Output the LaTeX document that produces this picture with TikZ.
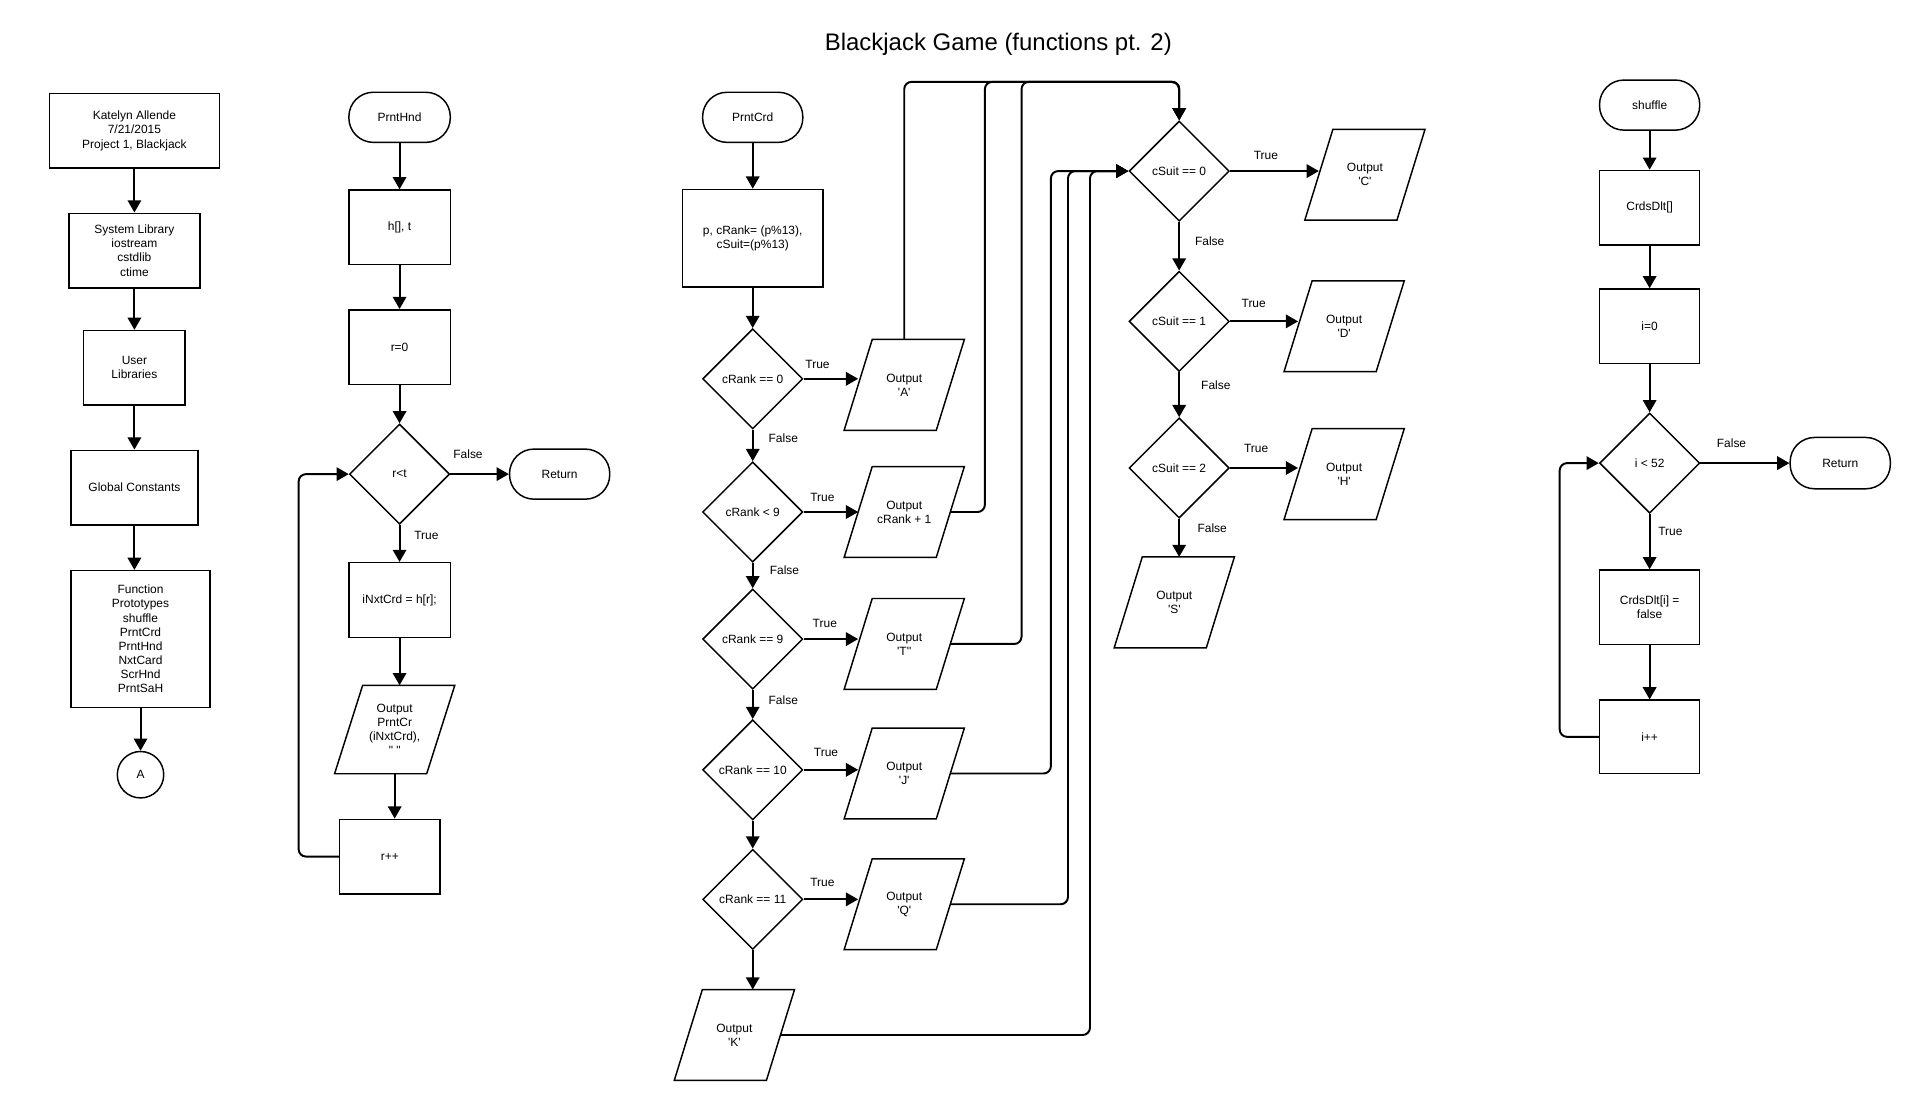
\documentclass[tikz,border=0pt]{standalone}
\usepackage{fontspec}
\setmainfont{Liberation Sans}[Ligatures=TeXOff]
\usetikzlibrary{shapes.geometric,arrows.meta}
\begin{document}
\begin{tikzpicture}[x=1pt,y=-1pt,
  every node/.style={font=\fontsize{9.8pt}{11.6pt}\selectfont, align=center, inner sep=0pt},
  proc/.style={draw, line width=1.2pt, minimum width=83pt, minimum height=61pt},
  term/.style={draw, line width=1.2pt, rounded corners=20pt, minimum width=83pt, minimum height=41pt},
  dec/.style={draw, diamond, aspect=1, line width=1.2pt, minimum width=82pt, minimum height=82pt},
  io/.style={minimum width=75pt, minimum height=74pt},
  conn/.style={circle, draw, line width=1.2pt, minimum size=38pt},
  flow/.style={line width=1.6pt, -{Triangle[length=10pt,width=11pt]}},
  link/.style={line width=1.4pt, rounded corners=6pt}
]
\useasboundingbox (0,0) rectangle (1568,900);

\node[font=\fontsize{19.6pt}{23pt}\selectfont] (title) at (817,36) {Blackjack Game (functions pt. 2)};

% ---------- header column ----------
\node[proc, minimum width=139pt] (hdr) at (110,107) {Katelyn Allende\\7/21/2015\\Project 1, Blackjack};
\node[proc, minimum width=107pt] (syslib) at (110,205) {System Library\\iostream\\cstdlib\\ctime};
\node[proc, minimum width=83pt] (usrlib) at (110,301) {User\\Libraries};
\node[proc, minimum width=104pt] (glob) at (110,399) {Global Constants};
\node[proc, minimum width=114pt, minimum height=112pt] (proto) at (115,523) {Function\\Prototypes\\shuffle\\PrntCrd\\PrntHnd\\NxtCard\\ScrHnd\\PrntSaH};
\node[conn] (conA) at (115,634) {A};

\draw[flow] (hdr) -- (syslib);
\draw[flow] (syslib) -- (usrlib);
\draw[flow] (usrlib) -- (glob);
\draw[flow] (glob.south) -- (glob.south |- proto.north);
\draw[flow] (proto) -- (conA);

% ---------- PrntHnd ----------
\node[term] (hndStart) at (327,96) {PrntHnd};
\node[proc] (hndArgs) at (327,186) {h[], t};
\node[proc] (hndInit) at (327,284) {r=0};
\node[dec] (hndTest) at (327,388) {r<t};
\node[term, minimum width=82pt] (hndRet) at (458,388) {Return};
\node[proc] (hndNext) at (327,491) {iNxtCrd = h[r];};
\node[io, minimum height=72pt] (hndOut) at (323,597) {Output\\PrntCr\\(iNxtCrd),\\" "};
\node[proc, minimum width=82pt] (hndInc) at (319,701) {r++};

\draw[flow] (hndStart) -- (hndArgs);
\draw[flow] (hndArgs) -- (hndInit);
\draw[flow] (hndInit) -- (hndTest);
\draw[flow] (hndTest) -- (hndRet);
\draw[flow] (hndTest) -- (hndNext);
\draw[flow] (hndNext.south) -- (hndNext.south |- hndOut.north);
\draw[flow] (hndOut.south) -- (hndOut.south |- hndInc.north);
\draw[flow, rounded corners=6pt] (hndInc.west) -- ++(-33,0) |- (hndTest.west);
\node (hndF) at (383,372) {False};
\node (hndT) at (349,438) {True};

% ---------- PrntCrd ----------
\node[term, minimum width=82pt] (crdStart) at (616,96) {PrntCrd};
\node[proc, minimum width=115pt, minimum height=80pt] (crdInit) at (616,195) {p, cRank= (p\%13),\\cSuit=(p\%13)};
\node[dec] (r0) at (616,310) {cRank == 0};
\node[dec] (rlt) at (616,419) {cRank < 9};
\node[dec] (r9) at (616,523) {cRank == 9};
\node[dec] (r10) at (616,630) {cRank == 10};
\node[dec] (r11) at (616,736) {cRank == 11};
\node[io] (pA) at (740,315) {Output\\'A'};
\node[io] (pR) at (740,419) {Output\\cRank + 1};
\node[io] (pT) at (740,527) {Output\\'T''};
\node[io] (pJ) at (740,633) {Output\\'J'};
\node[io] (pQ) at (740,740) {Output\\'Q'};
\node[io] (pK) at (601,847) {Output\\'K'};

\draw[flow] (crdStart) -- (crdInit);
\draw[flow] (crdInit) -- (r0);
\draw[flow] (r0) -- (rlt);
\draw[flow] (rlt) -- (r9);
\draw[flow] (r9) -- (r10);
\draw[flow] (r10) -- (r11);
\draw[flow] (r11.south) -- (r11.south |- pK.north);
\draw[flow] (r0.east) -- (r0.east -| pA.west);
\draw[flow] (rlt.east) -- (rlt.east -| pR.west);
\draw[flow] (r9.east) -- (r9.east -| pT.west);
\draw[flow] (r10.east) -- (r10.east -| pJ.west);
\draw[flow] (r11.east) -- (r11.east -| pQ.west);

\node (t0) at (669,298) {True};
\node (f0) at (641,359) {False};
\node (t1) at (673,407) {True};
\node (f1) at (642,467) {False};
\node (t2) at (675,510) {True};
\node (f2) at (641,573) {False};
\node (t3) at (676,616) {True};
\node (t4) at (673,722) {True};

% ---------- suit tests ----------
\node[dec] (s0) at (965,140) {cSuit == 0};
\node[dec] (s1) at (965,263) {cSuit == 1};
\node[dec] (s2) at (965,383) {cSuit == 2};
\node[io] (pC) at (1117,143) {Output\\'C'};
\node[io] (pD) at (1100,267) {Output\\'D'};
\node[io] (pH) at (1100,388) {Output\\'H'};
\node[io] (pS) at (961,493) {Output\\'S'};

\draw[flow] (s0.east) -- (s0.east -| pC.west);
\draw[flow] (s1.east) -- (s1.east -| pD.west);
\draw[flow] (s2.east) -- (s2.east -| pH.west);
\draw[flow] (s0) -- (s1);
\draw[flow] (s1) -- (s2);
\draw[flow] (s2.south) -- (s2.south |- pS.north);

\node (st0) at (1036,127) {True};
\node (sf0) at (990,197) {False};
\node (st1) at (1026,248) {True};
\node (sf1) at (995,315) {False};
\node (st2) at (1028,367) {True};
\node (sf2) at (992,432) {False};

% rank outputs feeding the suit test
\coordinate (busTop) at (965,67);
\coordinate (k1) at (806,67);
\coordinate (k2) at (836,67);
\coordinate (k3) at (860,140);
\coordinate (k4) at (874,140);
\coordinate (k5) at (892,140);
\draw[link, flow, rounded corners=6pt] (pA.north) |- (busTop) -- (s0.north);
\draw[link, flow, rounded corners=6pt] (pR.east) -| (k1) -- (busTop) -- (s0.north);
\draw[link, flow, rounded corners=6pt] (pT.east) -| (k2) -- (busTop) -- (s0.north);
\draw[link, flow, rounded corners=6pt] (pJ.east) -| (k3) -- (s0.west);
\draw[link, flow, rounded corners=6pt] (pQ.east) -| (k4) -- (s0.west);
\draw[link, flow, rounded corners=6pt] (pK.east) -| (k5) -- (s0.west);

% ---------- shuffle ----------
\node[term, minimum width=82pt] (shStart) at (1350,86) {shuffle};
\node[proc, minimum width=82pt] (shArr) at (1350,170) {CrdsDlt[]};
\node[proc, minimum width=82pt] (shInit) at (1350,267) {i=0};
\node[dec] (shTest) at (1350,379) {i < 52};
\node[term, minimum width=82pt, minimum height=42pt] (shRet) at (1506,379) {Return};
\node[proc, minimum width=82pt] (shSet) at (1350,497) {CrdsDlt[i] =\\false};
\node[proc, minimum width=82pt, minimum height=60pt] (shInc) at (1350,603) {i++};

\draw[flow] (shStart) -- (shArr);
\draw[flow] (shArr) -- (shInit);
\draw[flow] (shInit) -- (shTest);
\draw[flow] (shTest) -- (shRet);
\draw[flow] (shTest) -- (shSet);
\draw[flow] (shSet) -- (shInc);
\draw[flow, rounded corners=6pt] (shInc.west) -- ++(-32,0) |- (shTest.west);
\node (shF) at (1417,363) {False};
\node (shT) at (1367,435) {True};

% parallelogram outlines around the input/output nodes
\foreach \n in {hndOut,pA,pR,pT,pJ,pQ,pK,pC,pD,pH,pS}
  \draw[line width=1.2pt] ([xshift=-11.5pt]\n.south west) -- ([xshift=-11.5pt]\n.south east)
    -- ([xshift=11.5pt]\n.north east) -- ([xshift=11.5pt]\n.north west) -- cycle;
\end{tikzpicture}
\end{document}
